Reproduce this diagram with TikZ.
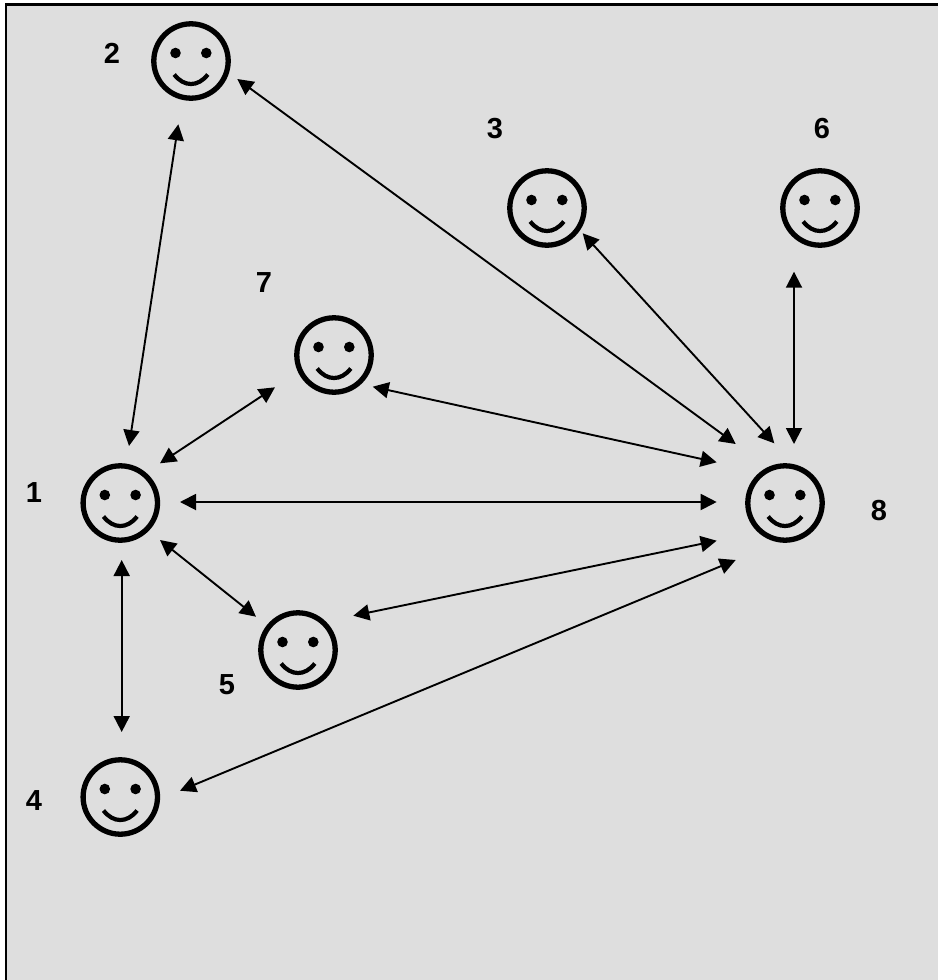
\documentclass[tikz,border=0pt]{standalone}
\usepackage{fontspec}
\setmainfont{Liberation Sans}
\usetikzlibrary{arrows.meta}
\definecolor{panelgray}{HTML}{DEDEDE}
\tikzset{
  x=1pt,y=-1pt,
  facenode/.style={circle,draw=black,line width=5.3pt,minimum size=74.4pt,inner sep=0pt},
  numlabel/.style={font=\fontsize{29}{29}\selectfont\bfseries,inner sep=0pt,text=black},
  link/.style={line width=1.9pt,black,{Triangle[length=16pt,width=16pt]}-{Triangle[length=16pt,width=16pt]}},
  smiley/.pic={
    \fill[black] (-15.5,-8) circle[radius=5.3];
    \fill[black] (15.3,-8) circle[radius=5.3];
    \draw[black,line width=4.2pt] (-16.8,13.5) .. controls (-7,26.2) and (7,26.2) .. (16.8,13.5);
  }
}
\begin{document}
\begin{tikzpicture}
\useasboundingbox (0,0) rectangle (938,980);
\fill[white] (0,0) rectangle (938,980);
\fill[panelgray] (6,4.5) rectangle (938,980);
\draw[black,line width=2.6pt] (6,980) -- (6,4.5) -- (938,4.5);
\foreach \n/\x/\y in {n1/120.3/503,n2/191/61,n3/547/208,n4/120.3/797,n5/298/650,n6/820/208,n7/334/355,n8/785/503}{
  \node[facenode] (\n) at (\x,\y) {};
  \pic at (\n.center) {smiley};
}
\node[numlabel] (l1) at (34,493) {1};
\node[numlabel] (l2) at (112,53) {2};
\node[numlabel] (l3) at (495,129) {3};
\node[numlabel] (l4) at (34,801) {4};
\node[numlabel] (l5) at (227,685) {5};
\node[numlabel] (l6) at (822,129) {6};
\node[numlabel] (l7) at (264,283) {7};
\node[numlabel] (l8) at (879,511) {8};
\draw[link] ([shift={(-12.7,63.3)}]n2.center) -- ([shift={(8.7,-57)}]n1.center);
\draw[link] ([shift={(46.3,18)}]n2.center) -- ([shift={(-49.3,-59)}]n8.center);
\draw[link] ([shift={(35.7,25.3)}]n3.center) -- ([shift={(-10.7,-59.7)}]n8.center);
\draw[link] ([shift={(-26,63.7)}]n6.center) -- ([shift={(9,-59)}]n8.center);
\draw[link] ([shift={(38.7,31.7)}]n7.center) -- ([shift={(-68.3,-40.7)}]n8.center);
\draw[link] ([shift={(-59,32.3)}]n7.center) -- ([shift={(39.7,-39.7)}]n1.center);
\draw[link] ([shift={(59.7,-1)}]n1.center) -- ([shift={(-68.3,-1)}]n8.center);
\draw[link] ([shift={(-42,-33.3)}]n5.center) -- ([shift={(39.7,37)}]n1.center);
\draw[link] ([shift={(55.3,-34.3)}]n5.center) -- ([shift={(-68.3,37.7)}]n8.center);
\draw[link] ([shift={(59.7,-6.3)}]n4.center) -- ([shift={(-49.3,57)}]n8.center);
\draw[link] ([shift={(1.4,57)}]n1.center) -- ([shift={(1.4,-65)}]n4.center);
\end{tikzpicture}
\end{document}
